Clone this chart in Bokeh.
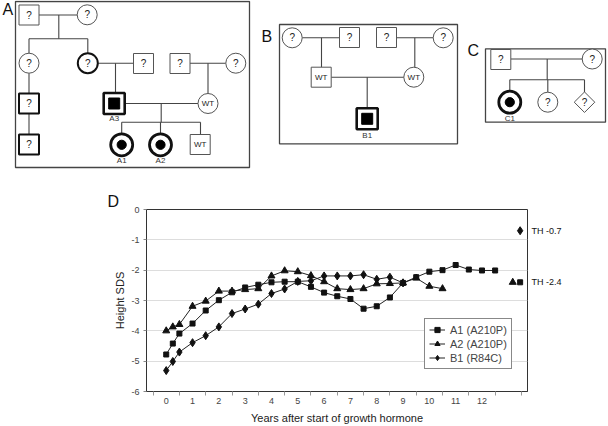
import math
from bokeh.plotting import figure
from bokeh.models import (Range1d, FixedTicker, Legend, LegendItem, LinearAxis,
                          GlobalInlineStyleSheet)
from bokeh.core.properties import value
from bokeh.embed import file_html
from bokeh.resources import INLINE

FONT = "Liberation Sans"

# ---------------- growth data (panel D) ----------------
years = [0, 0.25, 0.5, 1, 1.5, 2, 2.5, 3, 3.5, 4, 4.5, 5, 5.5, 6, 6.5, 7,
         7.5, 8, 8.5, 9, 9.5, 10, 10.5, 11, 11.5, 12, 12.5]
a1_sds = [-4.78, -4.42, -4.09, -3.76, -3.33, -2.99, -2.73, -2.57, -2.48,
          -2.40, -2.38, -2.38, -2.55, -2.74, -2.86, -2.95, -3.27, -3.19,
          -2.90, -2.42, -2.23, -2.05, -2.00, -1.83, -1.98, -2.01, -2.01]
a2_sds = [-4.00, -3.87, -3.79, -3.19, -3.02, -2.69, -2.69, -2.64, -2.61,
          -2.19, -2.02, -2.05, -2.18, -2.38, -2.61, -2.64, -2.61, -2.45,
          -2.44, -2.42, -2.26, -2.53, -2.61]
b1_sds = [-5.31, -5.01, -4.70, -4.39, -4.16, -3.87, -3.43, -3.28, -3.12,
          -2.77, -2.62, -2.37, -2.35, -2.19, -2.19, -2.19, -2.15, -2.30,
          -2.23, -2.42]
series_names = ["A1 (A210P)", "A2 (A210P)", "B1 (R84C)"]
th_values = [-2.4, -2.4, -0.7]          # target heights for A1, A2, B1
th_x = [13.45, 13.17, 13.45]
th_label_values = [-2.4, -0.7]
th_labels = ["TH -2.4", "TH -0.7"]
x_tick_values = list(range(0, 13))
y_tick_values = [0, -1, -2, -3, -4, -5, -6]
y_tick_labels = ["0", "-1", "-2", "-3", "-4", "-5", "-6"]

# ---------------- pedigree diagram layout (panels A-C) ----------------
# squares: x, y, label, border (0 thin, 1 thick, 2 affected)
sq_x = [28.5, 143, 179.5, 28.5, 28.5, 113.7, 199.7, 349, 386, 320.7, 366.7, 500.3]
sq_y = [14.5, 63, 63, 103, 144, 103, 144, 37, 37, 76.7, 118.3, 59]
sq_txt = ["?", "?", "?", "?", "?", "", "WT", "?", "?", "WT", "", "?"]
sq_thick = [0, 0, 0, 1, 1, 2, 0, 0, 0, 0, 2, 0]
# circles
ci_x = [86.7, 28.5, 87.3, 235.3, 207.5, 121.2, 160, 291.7, 442.7, 413.3, 591.7, 509.3, 547.3]
ci_y = [14.3, 62.7, 62.7, 62.7, 103, 144.3, 144.3, 37.3, 37.3, 76.7, 58.5, 101.7, 101.7]
ci_txt = ["?", "?", "?", "?", "WT", "", "", "?", "?", "WT", "?", "", "?"]
ci_thick = [0, 0, 1, 0, 0, 2, 2, 0, 0, 0, 0, 2, 0]
# diamond (unknown sex)
di_x = [584]
di_y = [101.7]
di_txt = ["?"]
# connecting lines
ln_x0 = [38, 58.3, 28.5, 28.5, 87.3, 97.3, 115, 189.5, 207.5, 28.5, 28.5,
         124.2, 160.7, 121.2, 121.2, 160, 200,
         301.7, 321, 396, 414.3, 330.7, 366.7,
         510.3, 546.7, 509.3, 509.3, 547.3, 584]
ln_y0 = [14.5, 14.5, 38.3, 38.3, 38.3, 62.7, 62.7, 62.7, 62.7, 72.7, 113,
         103, 103, 121.7, 121.7, 121.7, 121.7,
         37.3, 37.3, 37.3, 37.3, 76.7, 76.7,
         58.5, 58.5, 79.3, 79.3, 79.3, 79.3]
ln_x1 = [76.7, 58.3, 87.3, 28.5, 87.3, 133, 115, 225.3, 207.5, 28.5, 28.5,
         197.5, 160.7, 200, 121.2, 160, 200,
         339, 321, 432.7, 414.3, 403.3, 366.7,
         581.7, 546.7, 584, 509.3, 547.3, 584]
ln_y1 = [14.5, 38.3, 38.3, 52.7, 52.7, 62.7, 92.5, 62.7, 93, 93, 134,
         103, 121.7, 121.7, 133, 133, 134,
         37.3, 66.7, 37.3, 66.7, 76.7, 107.5,
         58.5, 79.3, 79.3, 90.5, 91.7, 91.5]
# individual ids
id_x = [113.7, 121.2, 160, 366.7, 509.3]
id_y = [117.5, 160, 160, 135, 117.5]
id_txt = ["A3", "A1", "A2", "B1", "C1"]
# panel frames and letters
pan_l = [15, 279, 485]
pan_r = [249, 457, 605]
pan_t = [1, 24, 48.3]
pan_b = [167, 143.3, 121.7]
pan_lx = [2, 261, 467]
pan_ly = [9, 36, 50]
pan_txt = ["A", "B", "C"]

PED_H = 190

# ---------------- pedigree figure ----------------
ped = figure(width=608, height=PED_H, x_range=Range1d(0, 608), y_range=Range1d(PED_H, 0),
             x_axis_type=None, y_axis_type=None, min_border=0,
             output_backend="svg", toolbar_location=None)
ped.outline_line_color = None
ped.background_fill_color = "white"

ped.quad(left=pan_l, right=pan_r, top=pan_t, bottom=pan_b, fill_color=None,
         line_color="#444444", line_width=1.3)
ped.text(x=pan_lx, y=pan_ly, text=pan_txt, text_font=value(FONT), text_font_size="16px",
         text_align="left", text_baseline="middle", text_color="#111111")
ped.segment(x0=ln_x0, y0=ln_y0, x1=ln_x1, y1=ln_y1, line_color="#444444", line_width=1.1)

for i in range(len(sq_x)):
    t = sq_thick[i]
    size = 21 if t == 2 else 20
    lw = 2.6 if t == 2 else (2.0 if t == 1 else 1.0)
    col = "#111111" if t else "#555555"
    ped.rect(x=[sq_x[i]], y=[sq_y[i]], width=size, height=size, fill_color="white",
             line_color=col, line_width=lw)
    if t == 2:
        ped.rect(x=[sq_x[i]], y=[sq_y[i]], width=11, height=11, fill_color="black",
                 line_color="black")
for i in range(len(ci_x)):
    t = ci_thick[i]
    r = 11 if t == 2 else 10
    lw = 2.8 if t == 2 else (2.0 if t == 1 else 1.0)
    col = "#111111" if t else "#555555"
    ped.circle(x=[ci_x[i]], y=[ci_y[i]], radius=r, fill_color="white",
               line_color=col, line_width=lw)
    if t == 2:
        ped.circle(x=[ci_x[i]], y=[ci_y[i]], radius=4.6, fill_color="black",
                   line_color="black")
ped.scatter(x=di_x, y=di_y, marker="square", angle=math.pi / 4, size=14.5,
            fill_color="white", line_color="#555555", line_width=1.0)

q_x = [x for x, s in zip(sq_x, sq_txt) if s] + [x for x, s in zip(ci_x, ci_txt) if s] + di_x
q_y = [y for y, s in zip(sq_y, sq_txt) if s] + [y for y, s in zip(ci_y, ci_txt) if s] + di_y
q_t = [s for s in sq_txt if s] + [s for s in ci_txt if s] + di_txt
q_fs = ["8px" if s == "WT" else "10px" for s in q_t]
ped.text(x=q_x, y=q_y, text=q_t, text_font=value(FONT), text_font_size=q_fs,
         text_align="center", text_baseline="middle", text_color="#222222")
ped.text(x=id_x, y=id_y, text=id_txt, text_font=value(FONT), text_font_size="8px",
         text_align="center", text_baseline="middle", text_color="#333333")

# ---------------- growth chart (panel D) ----------------
ch = figure(width=608, height=426 - PED_H, x_range=Range1d(-0.75, 13.73), y_range=Range1d(-6, 0),
            min_border_left=146, min_border_right=81, min_border_top=209 - PED_H,
            min_border_bottom=35, title="D",
            output_backend="svg", toolbar_location=None)
ch.title.align = "left"
ch.title.offset = -39
ch.title.text_font = FONT
ch.title.text_font_size = "16px"
ch.title.text_font_style = "normal"
ch.title.text_color = "#111111"
try:
    ch.title.standoff = 0
except AttributeError:
    pass

ch.outline_line_color = "#333333"
ch.outline_line_width = 1
ch.xgrid.visible = False
ch.ygrid.ticker = FixedTicker(ticks=y_tick_values)
ch.ygrid.grid_line_color = "#dddddd"

ch.xaxis.ticker = FixedTicker(ticks=x_tick_values,
                              minor_ticks=[v + 0.5 for v in range(-1, 14)])
ch.xaxis.major_tick_line_color = None
ch.xaxis.major_tick_out = 4
ch.xaxis.major_tick_in = 0
ch.xaxis.minor_tick_out = 4
ch.xaxis.minor_tick_in = 0
ch.xaxis.minor_tick_line_color = "#999999"
ch.xaxis.major_label_standoff = 2
ch.xaxis.axis_label = "Years after start of growth hormone"
ch.xaxis.axis_label_standoff = 5

ch.yaxis.ticker = FixedTicker(ticks=y_tick_values)
ch.yaxis.major_label_overrides = dict(zip(y_tick_values, y_tick_labels))
ch.yaxis.minor_tick_line_color = None
ch.yaxis.major_tick_out = 3
ch.yaxis.major_tick_in = 0
ch.yaxis.major_tick_line_color = "#888888"
ch.yaxis.major_label_standoff = 4
ch.yaxis.axis_label = "Height SDS"
ch.yaxis.axis_label_standoff = 2

for ax in (ch.xaxis, ch.yaxis):
    ax.axis_line_color = "#333333"
    ax.major_label_text_font = FONT
    ax.major_label_text_font_size = "9px"
    ax.major_label_text_color = "#444444"
    ax.axis_label_text_font = FONT
    ax.axis_label_text_font_size = "11px"
    ax.axis_label_text_font_style = "normal"
    ax.axis_label_text_color = "#222222"

# right-hand axis carrying the target-height labels
th_axis = LinearAxis(ticker=FixedTicker(ticks=th_label_values),
                     major_label_overrides=dict(zip(th_label_values, th_labels)))
th_axis.axis_line_color = None
th_axis.major_tick_line_color = None
th_axis.minor_tick_line_color = None
th_axis.major_tick_out = 0
th_axis.major_label_standoff = 4
th_axis.major_label_text_font = FONT
th_axis.major_label_text_font_size = "9px"
th_axis.major_label_text_color = "#111111"
ch.add_layout(th_axis, "right")

LC = "#222222"
r1l = ch.line(years, a1_sds, line_color=LC, line_width=1)
r1m = ch.scatter(years, a1_sds, marker="square", size=5, color="#111111")
r2l = ch.line(years[:len(a2_sds)], a2_sds, line_color=LC, line_width=1)
r2m = ch.scatter(years[:len(a2_sds)], a2_sds, marker="triangle", size=7, color="#111111")
r3l = ch.line(years[:len(b1_sds)], b1_sds, line_color=LC, line_width=1)
r3m = ch.scatter(years[:len(b1_sds)], b1_sds, marker="diamond", size=8, color="#111111")

ch.scatter([th_x[0]], [th_values[0]], marker="square", size=5, color="#111111")
ch.scatter([th_x[1]], [th_values[1]], marker="triangle", size=7, color="#111111")
ch.scatter([th_x[2]], [th_values[2]], marker="diamond", size=8, color="#111111")

legend = Legend(items=[LegendItem(label=series_names[0], renderers=[r1l, r1m]),
                       LegendItem(label=series_names[1], renderers=[r2l, r2m]),
                       LegendItem(label=series_names[2], renderers=[r3l, r3m])],
                location=(278, 22))
legend.label_text_font = FONT
legend.label_text_font_size = "11px"
legend.label_height = 13
legend.glyph_height = 13
legend.glyph_width = 16
legend.label_standoff = 5
legend.padding = 4
legend.spacing = 1
legend.margin = 0
legend.border_line_color = "#111111"
legend.border_line_width = 1
legend.background_fill_alpha = 1
ch.add_layout(legend)

ped.stylesheets = [GlobalInlineStyleSheet(
    css="body { margin: 0 !important; font-size: 0; line-height: 0; }")]

p = [ped, ch]
open("out.html", "w").write(file_html(p, INLINE))
